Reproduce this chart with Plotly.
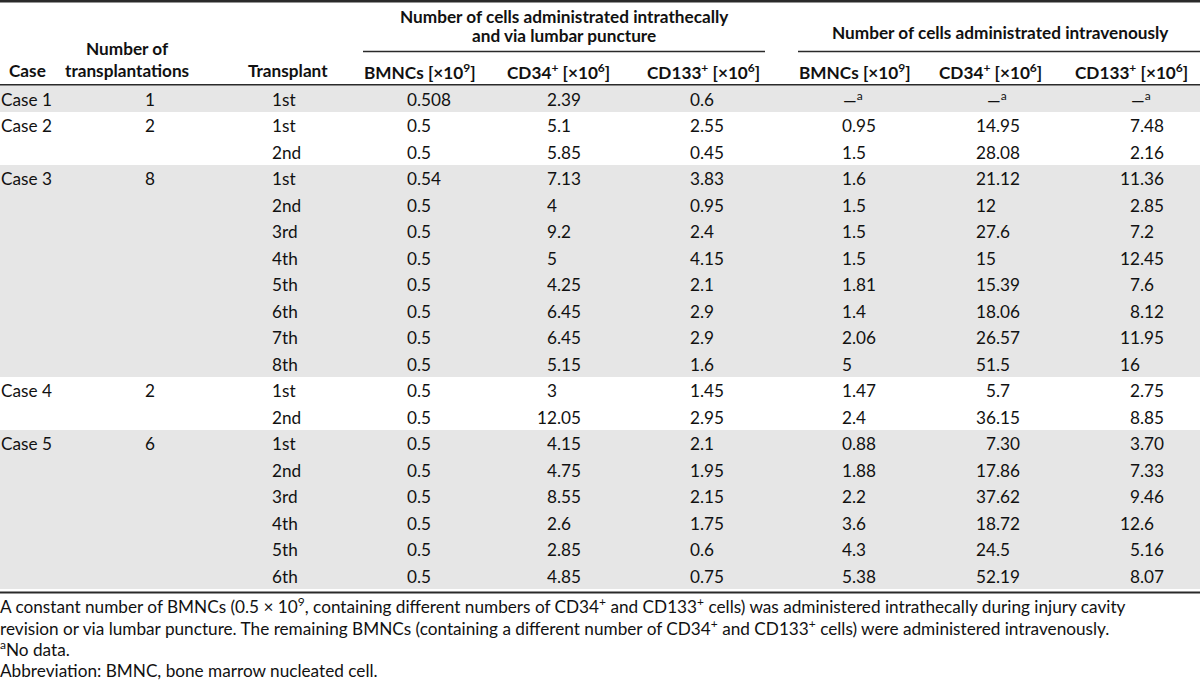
import plotly.graph_objects as go

# ---------------- data ----------------
case_labels = ["Case 1", "Case 2", "Case 3", "Case 4", "Case 5"]
n_transplantations = [1, 2, 8, 2, 6]
transplant_order = ["1st", "2nd", "3rd", "4th", "5th", "6th", "7th", "8th"]

# intrathecal / lumbar puncture
it_bmnc = ["0.508", "0.5", "0.5", "0.54", "0.5", "0.5", "0.5", "0.5", "0.5", "0.5",
           "0.5", "0.5", "0.5", "0.5", "0.5", "0.5", "0.5", "0.5", "0.5"]
it_cd34 = ["2.39", "5.1", "5.85", "7.13", "4", "9.2", "5", "4.25", "6.45", "6.45",
           "5.15", "3", "12.05", "4.15", "4.75", "8.55", "2.6", "2.85", "4.85"]
it_cd133 = ["0.6", "2.55", "0.45", "3.83", "0.95", "2.4", "4.15", "2.1", "2.9", "2.9",
            "1.6", "1.45", "2.95", "2.1", "1.95", "2.15", "1.75", "0.6", "0.75"]

# intravenous (None = no data)
iv_bmnc = [None, "0.95", "1.5", "1.6", "1.5", "1.5", "1.5", "1.81", "1.4", "2.06",
           "5", "1.47", "2.4", "0.88", "1.88", "2.2", "3.6", "4.3", "5.38"]
iv_cd34 = [None, "14.95", "28.08", "21.12", "12", "27.6", "15", "15.39", "18.06", "26.57",
           "51.5", "5.7", "36.15", "7.30", "17.86", "37.62", "18.72", "24.5", "52.19"]
iv_cd133 = [None, "7.48", "2.16", "11.36", "2.85", "7.2", "12.45", "7.6", "8.12", "11.95",
            "16", "2.75", "8.85", "3.70", "7.33", "9.46", "12.6", "5.16", "8.07"]

group_titles = ["Number of cells administrated intrathecally<br>and via lumbar puncture",
                "Number of cells administrated intravenously"]
col_titles = ["BMNCs [×10<sup>9</sup>]", "CD34<sup>+</sup> [×10<sup>6</sup>]",
              "CD133<sup>+</sup> [×10<sup>6</sup>]"] * 2

footnotes = [
    "A constant number of BMNCs (0.5 × 10<sup>9</sup>, containing different numbers of "
    "CD34<sup>+</sup> and CD133<sup>+</sup> cells) was administered intrathecally during injury cavity",
    "revision or via lumbar puncture. The remaining BMNCs (containing a different number of "
    "CD34<sup>+</sup> and CD133<sup>+</sup> cells) were administered intravenously.",
    "<sup>a</sup>No data.",
    "Abbreviation: BMNC, bone marrow nucleated cell.",
]

# ---------------- layout constants (pixels) ----------------
W, H = 1200, 689
BODY_TOP = 85
ROW_H = 26.5
FONT = "Lato"
FS = 17.2
FS_HEAD = 17.2
INK = "#111111"
RULE = "#2a2a2a"
BAND = "#e6e6e6"

CASE_X = 1
NTX_X = 150
TRANSPLANT_X = 272
DEC_X = [417, 556.5, 700, 851.5, 996, 1139.5]     # decimal point position per value column
DIGIT_W = 9
COL_HEAD_X = [420, 558, 703, 855, 990, 1131]
GROUP_X = [564, 1000]
GROUP_LINE = [(363, 765), (798, 1200)]

# build rows
rows_case, rows_ntx, rows_tp, shaded = [], [], [], []
r = 0
for ci, (lab, n) in enumerate(zip(case_labels, n_transplantations)):
    for k in range(n):
        rows_case.append(lab if k == 0 else "")
        rows_ntx.append(str(n) if k == 0 else "")
        rows_tp.append(transplant_order[k])
        if ci % 2 == 0:
            shaded.append(r)
        r += 1
n_rows = r
value_cols = [it_bmnc, it_cd34, it_cd133, iv_bmnc, iv_cd34, iv_cd133]


def py(p):
    return 1 - p / H


def row_val(p):
    return (p - BODY_TOP) / ROW_H - 0.5


fig = go.Figure()
# shaded row bands
fig.add_trace(go.Bar(
    y=shaded, x=[W] * len(shaded), base=0, orientation="h", width=1,
    marker=dict(color=BAND, line=dict(width=0)), hoverinfo="skip", showlegend=False,
))

ann = []
YS = -1


def cell(x, y, text, anchor):
    return dict(x=x, y=y, xref="x", yref="y", text=text, showarrow=False,
                xanchor=anchor, yanchor="middle", borderpad=0, borderwidth=0, yshift=YS,
                font=dict(family=FONT, size=FS, color=INK))


for i in range(n_rows):
    if rows_case[i]:
        ann.append(cell(CASE_X, i, rows_case[i], "left"))
        ann.append(cell(NTX_X, i, rows_ntx[i], "center"))
    ann.append(cell(TRANSPLANT_X, i, rows_tp[i], "left"))
    for vals, dx in zip(value_cols, DEC_X):
        v = vals[i]
        if v is None:
            # no data: dash + footnote mark, starting where a one-digit value starts
            ann.append(cell(dx - DIGIT_W, i, "—<sup>a</sup>", "left"))
            continue
        if "." in v:
            ip, fp = v.split(".")[0], "." + v.split(".")[1]
        else:
            ip, fp = v, ""
        ann.append(cell(dx, i, ip, "right"))
        if fp:
            ann.append(cell(dx, i, fp, "left"))


def head(x, p, text, anchor="center", size=FS_HEAD):
    return dict(x=x / W, y=py(p), xref="paper", yref="paper", text=text, showarrow=False,
                xanchor=anchor, yanchor="middle", borderpad=0, borderwidth=0,
                font=dict(family=FONT, size=size, color=INK))


ann.append(head(27, 70, "<b>Case</b>"))
ann.append(head(127, 49, "<b>Number of</b>"))
ann.append(head(127, 70, "<b>transplantations</b>"))
ann.append(head(288, 70, "<b>Transplant</b>"))
g1a, g1b = group_titles[0].split("<br>")
ann.append(head(GROUP_X[0], 16, f"<b>{g1a}</b>"))
ann.append(head(GROUP_X[0], 35, f"<b>{g1b}</b>"))
ann.append(head(GROUP_X[1], 33, f"<b>{group_titles[1]}</b>"))
for x, t in zip(COL_HEAD_X, col_titles):
    ann.append(head(x, 71, f"<b>{t}</b>"))

for p, t in zip([605, 627, 648, 670], footnotes):
    ann.append(head(0, p, t, anchor="left", size=FS))

shapes = []


def hline(x0, x1, p, w):
    return dict(type="line", xref="paper", yref="paper", x0=x0 / W, x1=x1 / W,
                y0=py(p), y1=py(p), line=dict(color=RULE, width=w), layer="above")


shapes.append(hline(0, W, 1.2, 2.5))
for a, b in GROUP_LINE:
    shapes.append(hline(a, b, 51.5, 1.4))
shapes.append(hline(0, W, 84.8, 1.6))
shapes.append(hline(0, W, 592.5, 2))

fig.update_layout(
    width=W, height=H,
    margin=dict(l=0, r=0, t=0, b=0),
    paper_bgcolor="white", plot_bgcolor="white",
    xaxis=dict(range=[0, W], visible=False, fixedrange=True),
    yaxis=dict(range=[row_val(H), row_val(0)], visible=False, fixedrange=True),
    annotations=ann, shapes=shapes,
    bargap=0, showlegend=False,
)

fig.write_html("out.html", config={"displayModeBar": False},
               post_script="document.body.style.margin='0';")
